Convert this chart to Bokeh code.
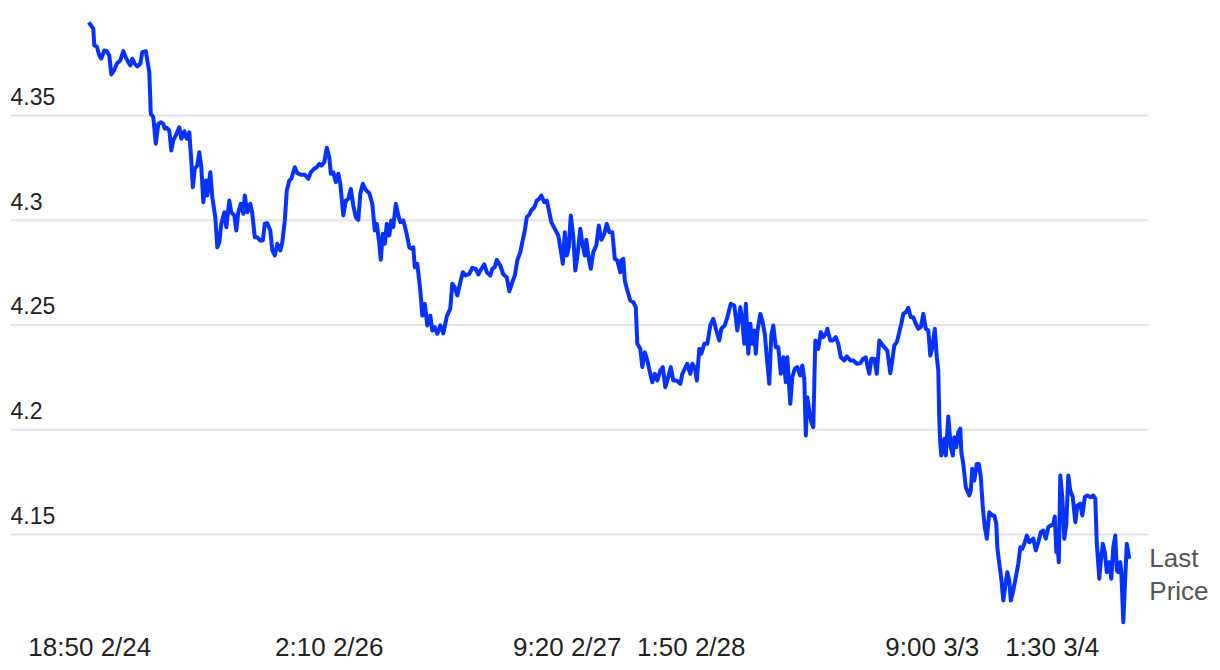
from bokeh.plotting import figure
from bokeh.models import FixedTicker, Range1d, ColumnDataSource
from bokeh.embed import file_html
from bokeh.resources import INLINE
from bokeh.core.properties import value

# 5-minute bar index (trading gaps removed) and last price
bar = [0, 9, 11, 16, 21, 25, 31, 36, 41, 45, 51, 56, 63, 69, 74, 77, 83, 87, 92, 97,
       103, 107, 114, 121, 124, 129, 134, 139, 144, 149, 152, 156, 161, 165, 169, 174, 181, 185, 191, 196,
       201, 205, 208, 212, 217, 221, 225, 229, 234, 237, 243, 247, 253, 257, 261, 265, 271, 275, 281, 285,
       291, 295, 299, 304, 309, 312, 317, 323, 327, 332, 337, 343, 348, 352, 357, 363, 367, 372, 377, 383,
       387, 392, 396, 401, 405, 412, 417, 424, 432, 439, 444, 451, 456, 461, 465, 471, 476, 481, 484, 489,
       494, 499, 503, 509, 514, 519, 524, 529, 534, 539, 543, 548, 554, 561, 567, 572, 576, 581, 584, 588,
       592, 596, 601, 605, 609, 614, 619, 623, 629, 635, 641, 645, 649, 652, 657, 663, 667, 672, 677, 683,
       687, 692, 697, 703, 709, 716, 723, 727, 732, 737, 743, 748, 754, 761, 767, 774, 779, 784, 791, 796,
       803, 807, 812, 816, 823, 829, 836, 841, 847, 852, 857, 863, 867, 872, 876, 881, 885, 891, 896, 901,
       905, 911, 916, 921, 925, 932, 939, 944, 948, 952, 956, 960, 964, 969, 973, 977, 983, 987, 992, 995,
       1000, 1004, 1009, 1015, 1020, 1025, 1031, 1036, 1041, 1047, 1052, 1057, 1063, 1065, 1069, 1072, 1077, 1083, 1089, 1094,
       1097, 1103, 1107, 1112, 1117, 1123, 1127, 1132, 1137, 1143, 1148, 1153, 1157, 1164, 1169, 1176, 1183, 1187, 1192, 1197,
       1203, 1207, 1212, 1216, 1221, 1225, 1231, 1237, 1243, 1249, 1254, 1261, 1265, 1272, 1277, 1284, 1291, 1297, 1303, 1307,
       1311, 1314, 1319, 1323, 1327, 1331, 1334, 1337, 1343, 1347, 1352, 1356, 1361, 1365, 1369, 1374, 1379, 1384, 1389, 1394,
       1397, 1403, 1407, 1412, 1417, 1423, 1427, 1431, 1434, 1437, 1441, 1445, 1449, 1453, 1459, 1464, 1469, 1474, 1477, 1483,
       1488, 1494, 1499, 1504, 1511, 1516, 1523, 1529, 1536, 1543, 1549, 1554, 1557, 1561, 1565, 1571, 1576, 1581, 1585, 1591,
       1597, 1603, 1607, 1611, 1616, 1621, 1625, 1629, 1634, 1639, 1644, 1649, 1654, 1659, 1664, 1669, 1674, 1679, 1683, 1687,
       1692, 1696, 1699, 1701, 1703, 1705, 1711, 1714, 1719, 1724, 1728, 1731, 1735, 1739, 1743, 1745, 1749, 1754, 1761, 1764,
       1767, 1771, 1776, 1780, 1784, 1788, 1792, 1796, 1801, 1807, 1811, 1815, 1817, 1821, 1825, 1829, 1834, 1837, 1841, 1844,
       1849, 1854, 1859, 1863, 1867, 1871, 1876, 1881, 1885, 1889, 1894, 1899, 1904, 1909, 1914, 1919, 1924, 1929, 1932, 1935,
       1937, 1940, 1943, 1947, 1951, 1955, 1959, 1963, 1968, 1973, 1977, 1983, 1987, 1992, 1997, 2004, 2009, 2013, 2016, 2021,
       2024, 2028, 2032, 2036, 2041, 2045, 2049, 2053, 2056, 2059, 2063, 2065, 2069, 2072, 2076, 2081]

price = [4.3945, 4.3914, 4.3834, 4.3829, 4.3786, 4.3772, 4.3810, 4.3807, 4.3786, 4.3696,
         4.3718, 4.3747, 4.3763, 4.3807, 4.3778, 4.3763, 4.3739, 4.3771, 4.3747, 4.3734,
         4.3747, 4.3802, 4.3807, 4.3707, 4.3508, 4.3492, 4.3365, 4.3460, 4.3468, 4.3460,
         4.3437, 4.3441, 4.3428, 4.3333, 4.3381, 4.3405, 4.3444, 4.3389, 4.3425, 4.3389,
         4.3420, 4.3285, 4.3158, 4.3246, 4.3261, 4.3325, 4.3253, 4.3086, 4.3190, 4.3118,
         4.3229, 4.3110, 4.3015, 4.2871, 4.2895, 4.2983, 4.3038, 4.2967, 4.3094, 4.3038,
         4.3023, 4.2951, 4.3038, 4.3079, 4.3031, 4.3118, 4.3038, 4.3079, 4.3031, 4.2919,
         4.2919, 4.2903, 4.2903, 4.2983, 4.2986, 4.2951, 4.2856, 4.2832, 4.2888, 4.2856,
         4.2895, 4.2999, 4.3142, 4.3190, 4.3198, 4.3253, 4.3225, 4.3217, 4.3217, 4.3198,
         4.3229, 4.3246, 4.3253, 4.3269, 4.3261, 4.3277, 4.3346, 4.3301, 4.3222, 4.3229,
         4.3182, 4.3222, 4.3174, 4.3023, 4.3094, 4.3102, 4.3150, 4.3070, 4.3015, 4.3002,
         4.3126, 4.3174, 4.3145, 4.3129, 4.3079, 4.2951, 4.2983, 4.2888, 4.2811, 4.2935,
         4.2888, 4.2983, 4.2927, 4.2999, 4.2967, 4.3079, 4.3023, 4.2991, 4.2999, 4.2943,
         4.2871, 4.2864, 4.2871, 4.2776, 4.2792, 4.2665, 4.2545, 4.2601, 4.2498, 4.2545,
         4.2474, 4.2490, 4.2458, 4.2498, 4.2460, 4.2541, 4.2579, 4.2697, 4.2680, 4.2641,
         4.2704, 4.2752, 4.2736, 4.2744, 4.2773, 4.2768, 4.2741, 4.2763, 4.2789, 4.2752,
         4.2736, 4.2768, 4.2776, 4.2811, 4.2784, 4.2741, 4.2728, 4.2661, 4.2704, 4.2736,
         4.2808, 4.2848, 4.2895, 4.2951, 4.3015, 4.3027, 4.3047, 4.3062, 4.3094, 4.3102,
         4.3118, 4.3086, 4.3094, 4.3038, 4.2991, 4.2959, 4.2927, 4.2856, 4.2792, 4.2943,
         4.2832, 4.2871, 4.3023, 4.2919, 4.2760, 4.2824, 4.2959, 4.2888, 4.2832, 4.2907,
         4.2816, 4.2768, 4.2848, 4.2880, 4.2975, 4.2907, 4.2935, 4.2983, 4.2943, 4.2943,
         4.2816, 4.2808, 4.2752, 4.2808, 4.2816, 4.2712, 4.2665, 4.2617, 4.2609, 4.2585,
         4.2410, 4.2386, 4.2299, 4.2370, 4.2331, 4.2267, 4.2227, 4.2267, 4.2235, 4.2283,
         4.2299, 4.2203, 4.2235, 4.2299, 4.2235, 4.2235, 4.2219, 4.2267, 4.2291, 4.2315,
         4.2267, 4.2315, 4.2299, 4.2235, 4.2386, 4.2363, 4.2410, 4.2410, 4.2498, 4.2530,
         4.2482, 4.2426, 4.2482, 4.2498, 4.2537, 4.2601, 4.2593, 4.2474, 4.2585, 4.2521,
         4.2410, 4.2601, 4.2363, 4.2506, 4.2410, 4.2474, 4.2363, 4.2466, 4.2553, 4.2521,
         4.2458, 4.2346, 4.2219, 4.2450, 4.2498, 4.2394, 4.2394, 4.2267, 4.2346, 4.2227,
         4.2346, 4.2124, 4.2251, 4.2291, 4.2299, 4.2259, 4.2307, 4.2243, 4.1973, 4.2155,
         4.2092, 4.2036, 4.2012, 4.2426, 4.2386, 4.2466, 4.2442, 4.2458, 4.2482, 4.2426,
         4.2426, 4.2442, 4.2410, 4.2346, 4.2331, 4.2350, 4.2331, 4.2331, 4.2315, 4.2318,
         4.2339, 4.2346, 4.2307, 4.2267, 4.2339, 4.2339, 4.2267, 4.2426, 4.2413, 4.2394,
         4.2378, 4.2270, 4.2331, 4.2402, 4.2418, 4.2466, 4.2506, 4.2553, 4.2561, 4.2582,
         4.2537, 4.2537, 4.2506, 4.2482, 4.2490, 4.2553, 4.2482, 4.2474, 4.2354, 4.2394,
         4.2482, 4.2346, 4.2283, 4.2044, 4.1933, 4.1877, 4.1957, 4.1877, 4.2063, 4.1917,
         4.1877, 4.1964, 4.1917, 4.1988, 4.2005, 4.1893, 4.1837, 4.1726, 4.1686, 4.1710,
         4.1814, 4.1758, 4.1837, 4.1837, 4.1774, 4.1630, 4.1535, 4.1480, 4.1606, 4.1591,
         4.1591, 4.1551, 4.1439, 4.1360, 4.1289, 4.1185, 4.1272, 4.1320, 4.1280, 4.1185,
         4.1233, 4.1296, 4.1360, 4.1439, 4.1432, 4.1456, 4.1495, 4.1463, 4.1471, 4.1480,
         4.1424, 4.1463, 4.1511, 4.1519, 4.1480, 4.1535, 4.1543, 4.1551, 4.1586, 4.1416,
         4.1463, 4.1368, 4.1782, 4.1678, 4.1480, 4.1551, 4.1782, 4.1710, 4.1678, 4.1559,
         4.1638, 4.1647, 4.1591, 4.1678, 4.1686, 4.1678, 4.1686, 4.1670, 4.1456, 4.1289,
         4.1376, 4.1456, 4.1416, 4.1320, 4.1368, 4.1289, 4.1439, 4.1495, 4.1328, 4.1320,
         4.1368, 4.1320, 4.1081, 4.1248, 4.1456, 4.1384]

tick_bars = [2, 481, 957, 1205, 1687, 1927]
tick_labels = ["18:50 2/24", "2:10 2/26", "9:20 2/27", "1:50 2/28", "9:00 3/3", "1:30 3/4"]
y_ticks = [4.15, 4.2, 4.25, 4.3, 4.35]
y_tick_labels = ["4.15", "4.2", "4.25", "4.3", "4.35"]
series_name = "Last Price"

FONT = "Liberation Sans"
X_START, X_END = -156.6, 2255.4
GRID_END = 2119.4

p = figure(width=1216, height=666, output_backend="svg", toolbar_location=None,
           x_range=Range1d(X_START, X_END), y_range=Range1d(4.10513, 4.40107),
           y_axis_location=None, min_border_left=10, min_border_right=0,
           min_border_top=8, min_border_bottom=38)
p.outline_line_color = None
p.background_fill_color = "white"
p.border_fill_color = "white"

for g in p.xgrid:
    g.visible = False
for g in p.ygrid:
    g.visible = False

# horizontal gridlines
p.segment(x0=[X_START] * len(y_ticks), x1=[GRID_END] * len(y_ticks), y0=y_ticks, y1=y_ticks,
          line_color="#e4e4e4", line_width=2)

ax = p.xaxis[0]
ax.ticker = FixedTicker(ticks=tick_bars)
ax.major_label_overrides = {t: l for t, l in zip(tick_bars, tick_labels)}
ax.axis_line_color = None
ax.major_tick_line_color = None
ax.minor_tick_line_color = None
ax.major_tick_in = 0
ax.major_tick_out = 0
ax.major_label_standoff = 3
ax.major_label_text_font = FONT
ax.major_label_text_font_size = "26px"
ax.major_label_text_color = "#222222"

p.line(bar, price, line_width=4, line_color="#0532ff", line_join="round")

ysrc = ColumnDataSource(dict(x=[X_START] * len(y_ticks), y=y_ticks, t=y_tick_labels))
p.text(x="x", y="y", text="t", source=ysrc, text_font=value(FONT), text_font_size="23px",
       text_color="#222222", text_baseline="alphabetic", text_align="left", y_offset=-19)

words = series_name.split(" ")
for i, w in enumerate(words):
    p.text(x=[bar[-1]], y=[price[-1]], text=[w], x_offset=20, y_offset=-1 + 33 * i,
           text_font=value(FONT), text_font_size="26px", text_color="#555555",
           text_baseline="alphabetic", text_align="left")

open("out.html", "w").write(file_html(p, INLINE))
